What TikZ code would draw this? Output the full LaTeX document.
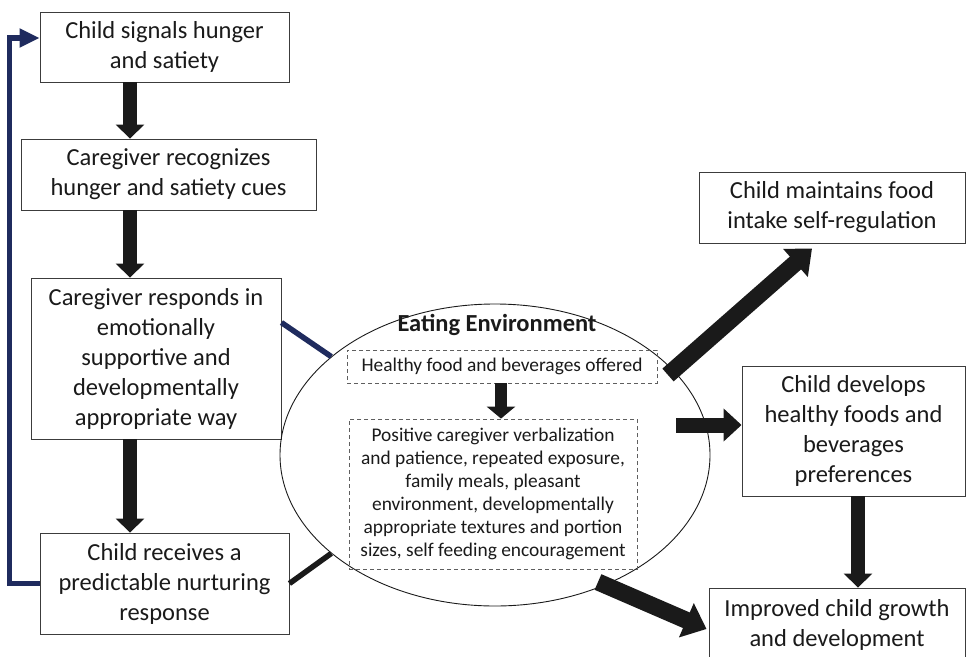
\documentclass[tikz,border=0pt]{standalone}
\usepackage{fontspec}
\setmainfont{Carlito}
\usetikzlibrary{arrows.meta,shapes.geometric}
\definecolor{navy}{HTML}{1F2B5E}
\definecolor{ink}{HTML}{1A1A1A}
\begin{document}
\begin{tikzpicture}[x=1pt,y=-1pt,
  box/.style={draw=ink!85, line width=0.9pt, fill=white, align=center, inner sep=0pt, font=\fontsize{24.5}{30}\selectfont, text=ink},
  dbox/.style={draw=ink!70, dash pattern=on 4pt off 3pt, line width=0.8pt, align=center, inner sep=0pt, font=\fontsize{19.4}{23}\selectfont, text=ink},
  blk/.style={draw=ink, line width=14pt, -{Triangle[width=28pt,length=14pt]}},
  blkd/.style={draw=ink, line width=17pt, -{Triangle[width=36pt,length=22pt]}},
  navyline/.style={draw=navy, line width=5.5pt}]
\useasboundingbox (0,0) rectangle (966,656);
\clip (0,0) rectangle (966,656);

% left column boxes
\node[box, minimum width=249pt, minimum height=70pt] (b1) at (164.5,47) {Child signals hunger\\and satiety};
\node[box, minimum width=295pt, minimum height=71pt] (b2) at (168.5,174.5) {Caregiver recognizes\\hunger and satiety cues};
\node[box, minimum width=250pt, minimum height=161pt] (b3) at (156,358.5) {Caregiver responds in\\emotionally\\supportive and\\developmentally\\appropriate way};
\node[box, minimum width=249pt, minimum height=101pt] (b4) at (164.5,583.5) {Child receives a\\predictable nurturing\\response};

% right column boxes
\node[box, minimum width=266pt, minimum height=71pt] (b5) at (832,207.5) {Child maintains food\\intake self-regulation};
\node[box, minimum width=223pt, minimum height=130pt] (b6) at (853.5,431) {Child develops\\healthy foods and\\beverages\\preferences};
\node[box, minimum width=256pt, minimum height=74pt] (b7) at (837,625) {Improved child growth\\and development};

% eating environment
\node[ellipse, draw=ink, line width=0.9pt, minimum width=430pt, minimum height=302pt, inner sep=0pt] (env) at (495,455) {};
\node[font=\bfseries\fontsize{24.5}{28}\selectfont, text=ink] (title) at (497,325) {Eating Environment};
\node[dbox, minimum width=310pt, minimum height=33pt] (d1) at (502,366.5) {Healthy food and beverages offered};
\node[dbox, minimum width=288pt, minimum height=150pt] (d2) at (493,494) {Positive caregiver verbalization\\and patience, repeated exposure,\\family meals, pleasant\\environment, developmentally\\appropriate textures and portion\\sizes, self feeding encouragement};

% column coordinates
\coordinate (colL) at (130,0);
\coordinate (colR) at (858,0);
\coordinate (colE) at (501,0);

% vertical block arrows
\draw[blk] (b1.south -| colL) -- (b2.north -| colL);
\draw[blk] (b2.south -| colL) -- (b3.north -| colL);
\draw[blk] (b3.south -| colL) -- (b4.north -| colL);
\draw[blk] (b6.south -| colR) -- (b7.north -| colR);
\draw[draw=ink, line width=12pt, -{Triangle[width=28pt,length=12pt]}] (d1.south -| colE) -- (d2.north -| colE);

% outgoing arrows from the environment
\coordinate (s5) at (668,375);
\coordinate (s6) at (676,425);
\coordinate (s7) at (598,582);
\draw[blkd] (s5) -- ([xshift=-20pt,yshift=-5pt]b5.south);
\draw[draw=ink, line width=15pt, -{Triangle[width=32pt,length=18pt]}] (s6) -- ([yshift=6pt]b6.west);
\draw[blkd] (s7) -- ([xshift=-2pt,yshift=-4pt]b7.west);

% links to the environment
\draw[navyline] ([yshift=-45pt]b3.north east) -- (env.149);
\draw[draw=ink, line width=5.5pt] (b4.east) -- (env.211);

% feedback loop
\draw[navyline, -{Triangle[width=18pt,length=20pt]}] (b4.west) -- ++(-30,0) |- ([yshift=9pt]b1.west);
\end{tikzpicture}
\end{document}
